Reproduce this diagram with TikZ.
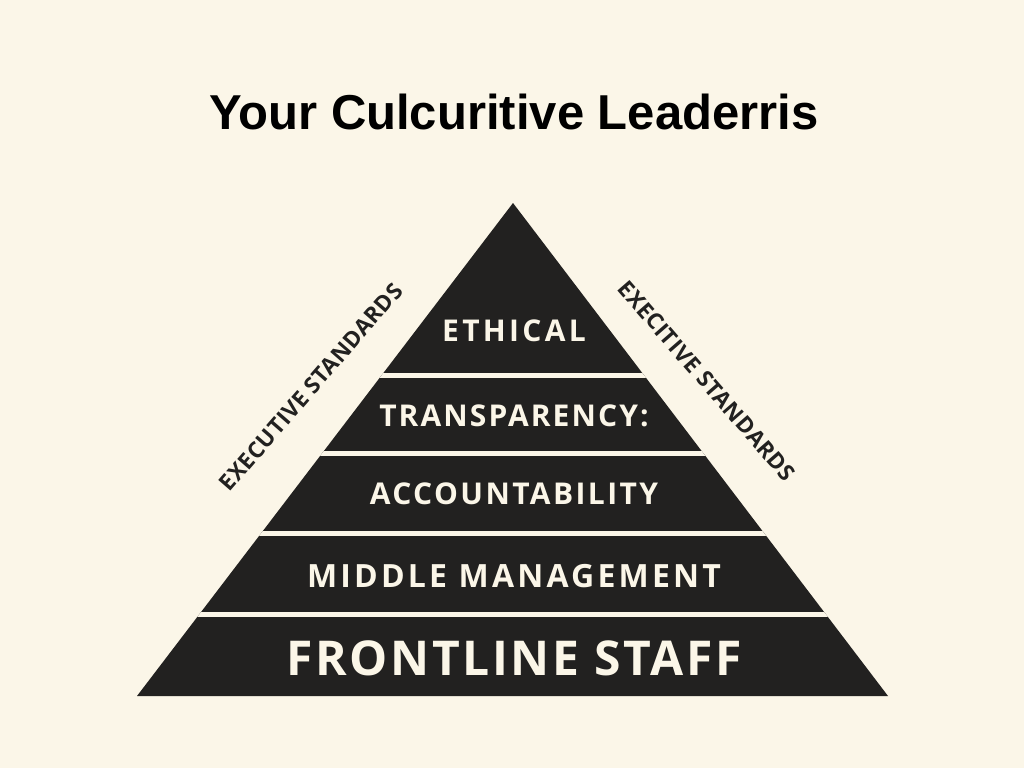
\documentclass[tikz,border=0pt]{standalone}
\usepackage{fontspec}
\setmainfont{Open Sans}
\newfontfamily\titlefont{Liberation Sans}
\definecolor{bg}{HTML}{FBF6E8}
\definecolor{ink}{HTML}{222120}
\begin{document}
\begin{tikzpicture}[x=1pt,y=-1pt,
  band/.style={text=bg},
  side/.style={text=ink,font=\bfseries\fontsize{22.5}{22.5}\selectfont\addfontfeature{LetterSpace=2}},
  sep/.style={draw=bg,line width=5pt}]
\fill[bg] (0,0) rectangle (1024,768);
\useasboundingbox (0,0) rectangle (1024,768);
\node[font=\titlefont\bfseries\fontsize{49}{49}\selectfont,text=black] (title) at (514,112) {Your Culcuritive Leaderris};
\coordinate (apex) at (513,203);
\coordinate (bl) at (137,696);
\coordinate (br) at (888,696);
\fill[ink] (apex) -- (bl) -- (br) -- cycle;
\begin{scope}
\clip (apex) -- (bl) -- (br) -- cycle;
\foreach \yy in {375,453,533,614} \draw[sep] (100,\yy) -- (930,\yy);
\end{scope}
\node[band,font=\bfseries\fontsize{30}{30}\selectfont\addfontfeature{LetterSpace=11}] (ethical) at (514,331) {ETHICAL};
\node[band,font=\bfseries\fontsize{30}{30}\selectfont\addfontfeature{LetterSpace=7}] (transp) at (514,416) {TRANSPARENCY:};
\node[band,font=\bfseries\fontsize{30}{30}\selectfont\addfontfeature{LetterSpace=8}] (acc) at (514,494) {ACCOUNTABILITY};
\node[band,font=\bfseries\fontsize{32}{32}\selectfont\addfontfeature{LetterSpace=10}] (mid) at (514,576) {MIDDLE MANAGEMENT};
\node[band,font=\bfseries\fontsize{48}{48}\selectfont\addfontfeature{LetterSpace=5.5}] (front) at (514,658) {FRONTLINE STAFF};
\node[side,rotate=49] (lside) at (311,387) {EXECUTIVE STANDARDS};
\node[side,rotate=-49] (rside) at (707,381) {EXECITIVE STANDARDS};
\end{tikzpicture}
\end{document}
